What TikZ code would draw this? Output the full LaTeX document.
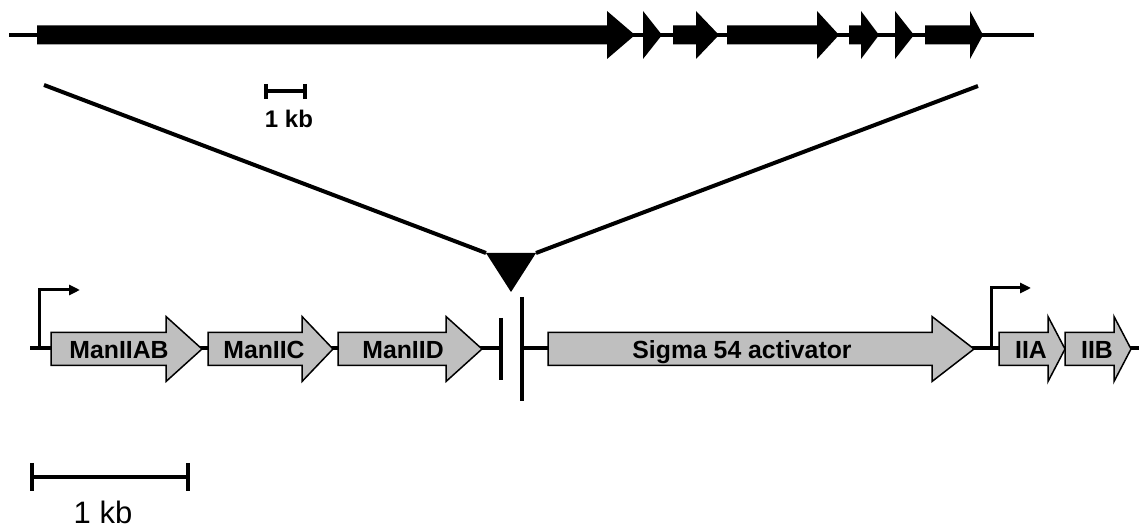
\documentclass[tikz,border=0pt]{standalone}
\usepackage{fontspec}
\setmainfont{Liberation Sans}
\usetikzlibrary{arrows.meta}

\begin{document}
\begin{tikzpicture}[x=0.5pt, y=-0.5pt, line width=2pt,
    gene/.style={fill=black!25, draw=black, line width=0.75pt},
    genename/.style={font=\fontsize{12.4}{14}\selectfont\bfseries, inner sep=0pt, anchor=base},
    promoter/.style={line width=1.5pt, -{Triangle[length=5.5pt, width=5pt]}}]
    \useasboundingbox (0,0) rectangle (1139,528);

    % whole region
    \draw (9,35) -- (1034,35);
    \foreach \s/\h/\t in {37/607/635, 643/643/662, 673/696/719, 727/817/839,
                          849/861/879, 895/895/914, 925/970/983}
        \fill (\s,25.5) -- (\h,25.5) -- (\h,11) -- (\t,35) -- (\h,59) -- (\h,44.5) -- (\s,44.5) -- cycle;
    \draw (266,91) -- (305,91);
    \draw (266,84) -- (266,99);
    \draw (305,84) -- (305,99);
    \node[genename, font=\fontsize{12}{14}\selectfont\bfseries] (kbtop) at (289,128) {1 kb};

    % zoom onto the insertion site
    \coordinate (zl) at (44,85);
    \coordinate (zr) at (978,86);
    \coordinate (tl) at (486,253);
    \coordinate (tr) at (536,253);
    \coordinate (tip) at (511,292);
    \fill (tl) -- (tr) -- (tip) -- cycle;
    \draw (zl) -- (tl);
    \draw (zr) -- (tr);

    % operon
    \draw (30,348) -- (501,348);
    \draw (522,348) -- (1139,348);
    \draw (501,318) -- (501,380);
    \draw (522,297) -- (522,401);
    \foreach \s/\h/\t/\n/\lx/\txt in {51/166/202/ab/119/ManIIAB, 208/302/333/c/264/ManIIC,
                                      338/446/482/d/403/ManIID, 548/932/974/sig/742/Sigma 54 activator,
                                      999/1048/1065/iia/1031/IIA, 1065/1114/1131/iib/1097/IIB}
    {
        \draw[gene] (\s,332.5) -- (\h,332.5) -- (\h,316.5) -- (\t,349) -- (\h,381.5) -- (\h,365.5) -- (\s,365.5) -- cycle;
        \node[genename] (\n) at (\lx,359) {\txt};
    }
    \draw[promoter] (39,348) |- (80,290);
    \draw[promoter] (991,348) |- (1031,288);

    % scale
    \draw (32,477) -- (188,477);
    \draw (32,463) -- (32,491);
    \draw (188,463) -- (188,491);
    \node[font=\fontsize{15.5}{18}\selectfont, inner sep=0pt, anchor=base] (kb) at (103,523) {1 kb};
\end{tikzpicture}
\end{document}
